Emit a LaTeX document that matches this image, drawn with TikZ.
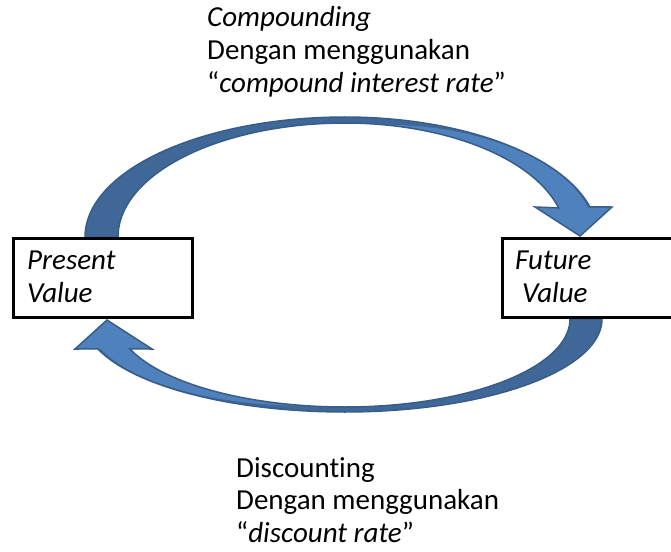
\documentclass[tikz,border=0pt]{standalone}
\usepackage{fontspec}
\setmainfont{Carlito}[Ligatures={TeX,NoCommon}]
\definecolor{arrowlight}{HTML}{4F81BD}
\definecolor{arrowdark}{HTML}{3F6797}
\definecolor{arrowedge}{HTML}{385D8A}
\begin{document}
\begin{tikzpicture}[x=1pt,y=-1pt,
  box/.style={draw=black, line width=3pt, fill=white, inner sep=0pt},
  txt/.style={anchor=base west, align=left, inner sep=0pt,
    font=\fontsize{29}{32.5}\selectfont},
  ribbonback/.style={fill=arrowdark},
  ribbonfront/.style={fill=arrowlight},
  ribbonedge/.style={draw=arrowedge, line width=1.5pt, line join=miter}
]
\useasboundingbox (0,0) rectangle (671,551);

% ---- upper curved arrow: Present Value -> Future Value ----
\def\upperoutline{(85,237)
  -- plot[domain=180:90, samples=40] ({345+260*cos(\x)}, {237-120*sin(\x)})
  -- plot[domain=90:14.5, samples=40] ({345+253*cos(\x)}, {237-120*sin(\x)})
  -- (612,207) -- (580,236) -- (535,207)
  -- plot[domain=14.8:90, samples=40] ({345+221*cos(\x)}, {237-114*sin(\x)})
  -- plot[domain=90:180, samples=40] ({345+227*cos(\x)}, {237-114*sin(\x)})
  -- cycle}
\path[ribbonback] \upperoutline;
\path[ribbonfront] (383.4,124.7)
  -- plot[domain=90:15.2, samples=40] ({383.4+212*cos(\x)}, {237-112.3*sin(\x)})
  -- (612,207) -- (580,236) -- (535,207)
  -- plot[domain=14.8:80, samples=40] ({345+221*cos(\x)}, {237-114*sin(\x)})
  -- cycle;
\path[ribbonedge] \upperoutline;

% ---- lower curved arrow: Future Value -> Present Value ----
\def\loweroutline{(602,319)
  -- plot[domain=0:90, samples=40] ({345+257*cos(\x)}, {319+93*sin(\x)})
  -- plot[domain=90:18.8, samples=40] ({345-261*cos(\x)}, {319+93*sin(\x)})
  -- (75,349) -- (107,320) -- (152,349)
  -- plot[domain=19.9:90, samples=40] ({345-228.7*cos(\x)}, {319+88*sin(\x)})
  -- plot[domain=90:0, samples=40] ({345+225*cos(\x)}, {319+88*sin(\x)})
  -- cycle}
\path[ribbonback] \loweroutline;
\path[ribbonfront] (305.3,405.7)
  -- plot[domain=90:20.3, samples=40] ({305.3-217.8*cos(\x)}, {319+86.7*sin(\x)})
  -- (75,349) -- (107,320) -- (152,349)
  -- plot[domain=19.9:80, samples=40] ({345-228.7*cos(\x)}, {319+88*sin(\x)})
  -- cycle;
\path[ribbonedge] \loweroutline;

% ---- value boxes ----
\node[box, minimum width=179pt, minimum height=79pt] (pv) at (103,278) {};
\node[box, minimum width=187pt, minimum height=79pt] (fv) at (596,278) {};

% multi-line texts are placed by the baseline of their last line
\node[txt] (pvtext) at (27,302) {\textit{Present}\\\textit{Value}};
\node[txt] (fvtext) at (515,302) {\textit{Future}\\\hspace*{7pt}\textit{Value}};

% ---- captions ----
\node[txt] (compound) at (207,92)
  {\textit{Compounding}\\Dengan menggunakan\\“\textit{compound interest rate}”};
\node[txt] (discount) at (236,542)
  {Discounting\\Dengan menggunakan\\“\textit{discount rate}”};
\end{tikzpicture}
\end{document}
